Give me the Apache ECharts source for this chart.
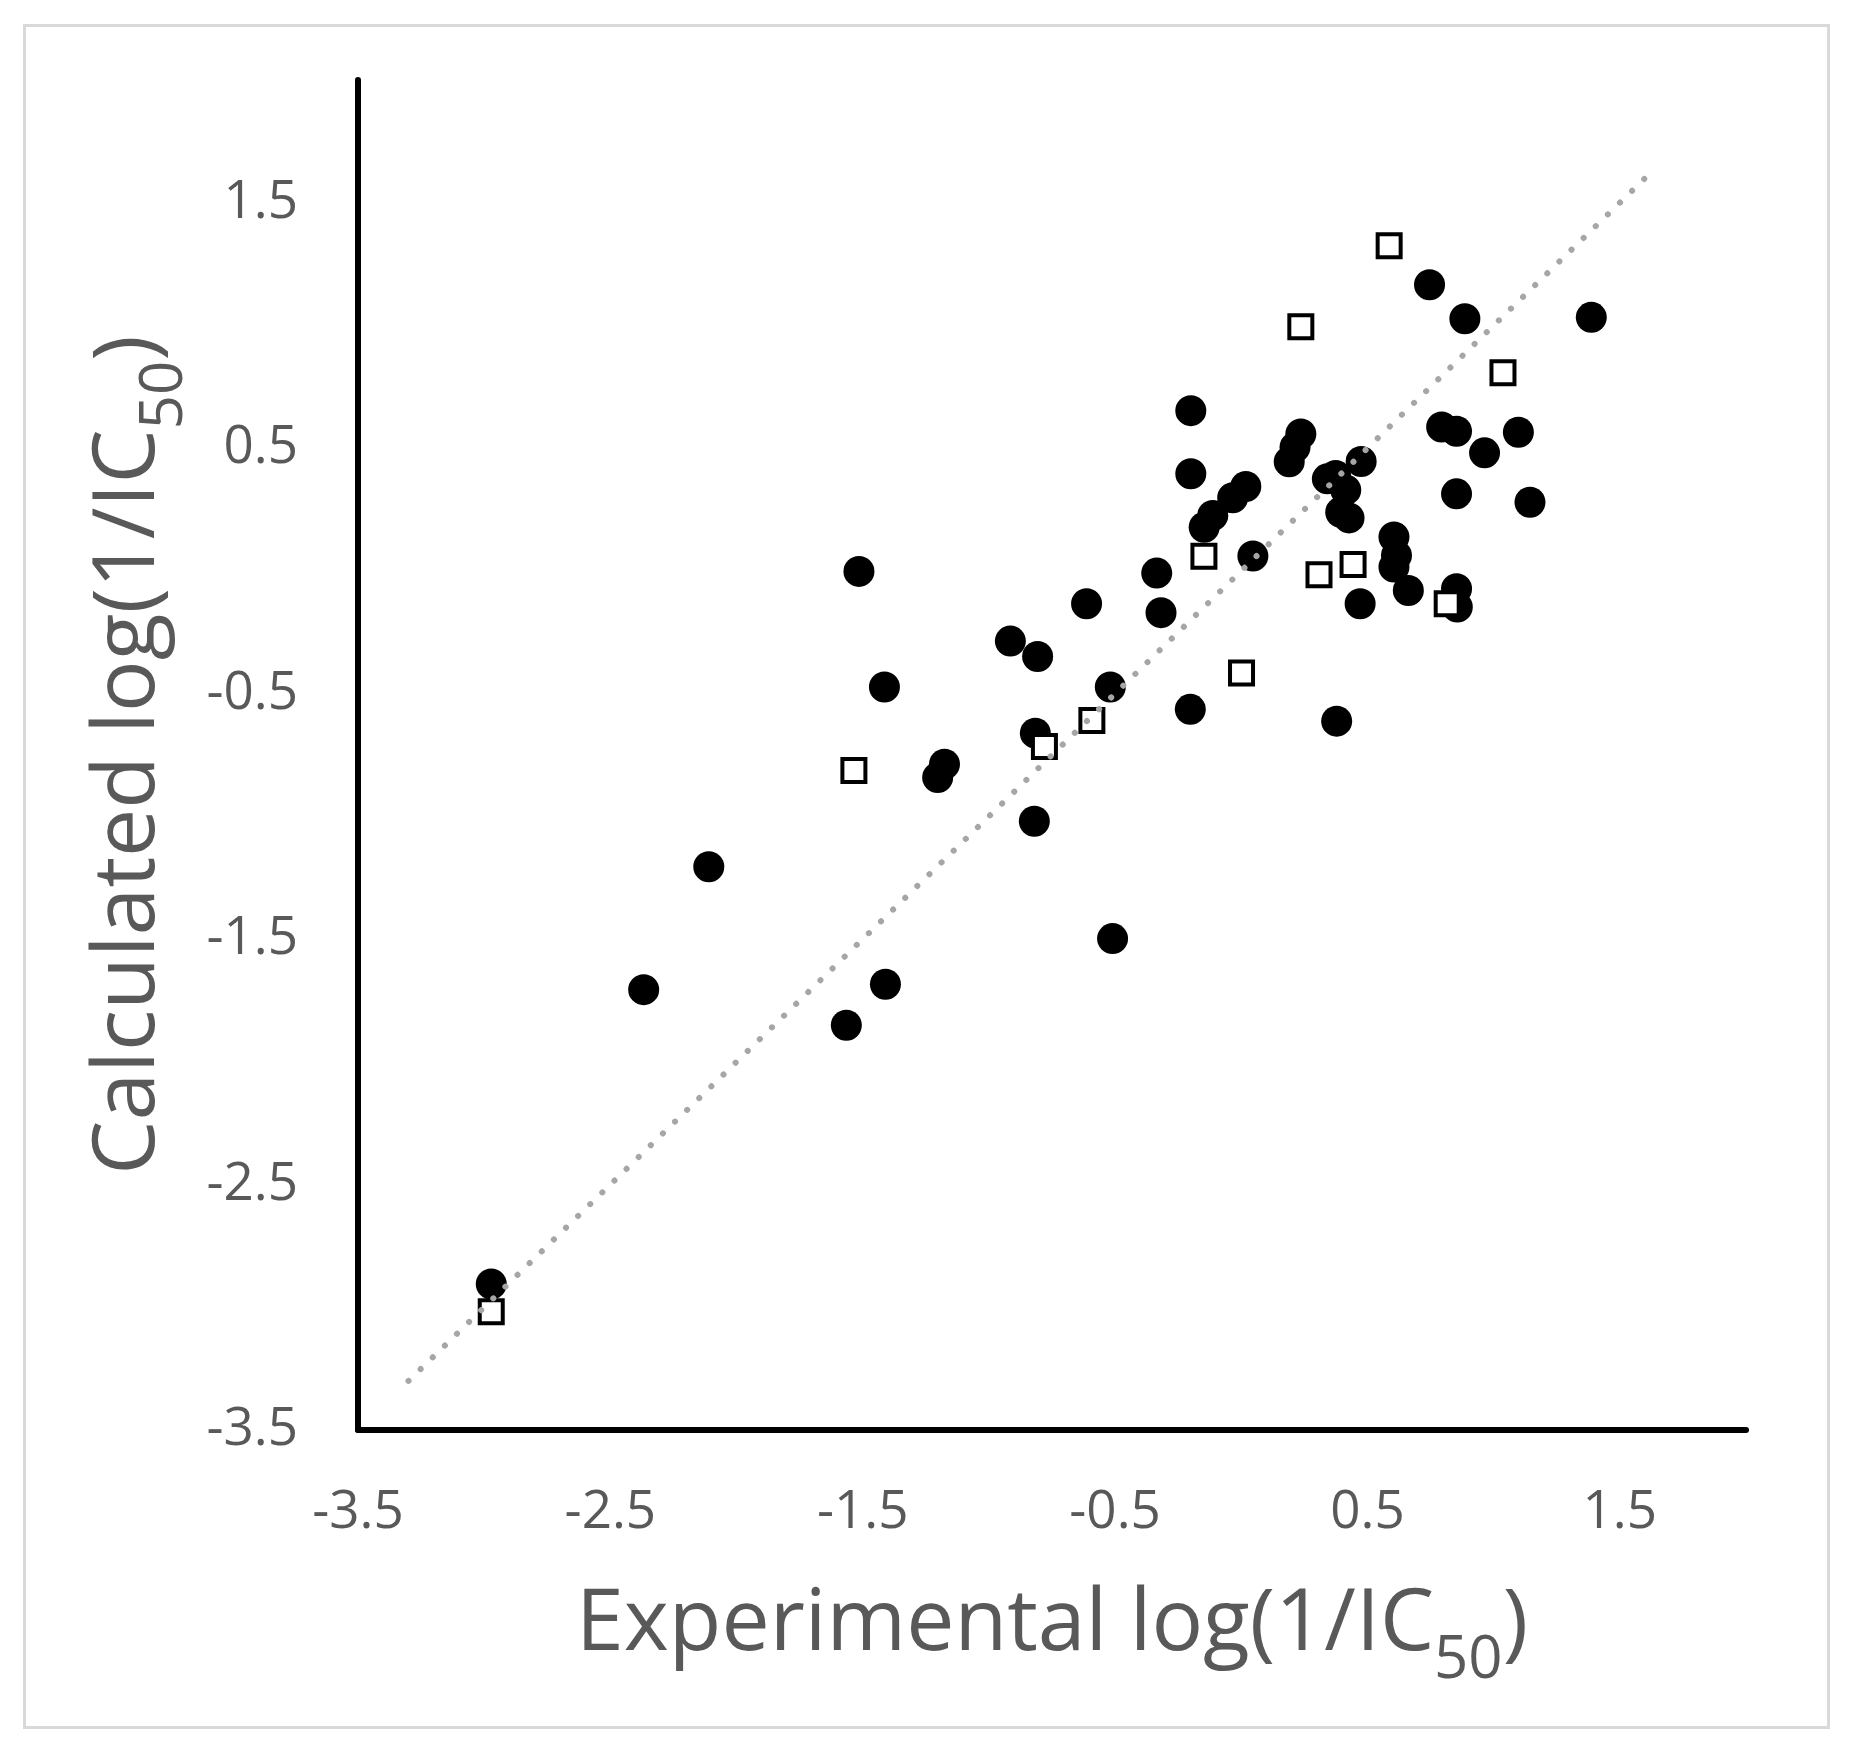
<!DOCTYPE html>
<html>
<head>
<meta charset="utf-8">
<script src="https://cdn.jsdelivr.net/npm/echarts@6/dist/echarts.min.js"></script>
<style>
html,body{margin:0;padding:0;background:#fff;}
#chart{width:1853px;height:1752px;}
</style>
</head>
<body>
<div id="chart"></div>
<script>
// Series 1: filled circles [experimental, calculated]
var circlePoints = [
  [0.746, 1.166], [0.886, 1.027], [1.387, 1.033],
  [-0.200, 0.653], [-0.200, 0.396],
  [0.236, 0.558], [0.213, 0.504], [0.190, 0.445],
  [0.018, 0.344], [-0.034, 0.298], [-0.113, 0.226], [-0.147, 0.178],
  [0.046, 0.061], [-0.335, -0.009], [-0.318, -0.170],
  [0.475, 0.446], [0.341, 0.375], [0.374, 0.389], [0.414, 0.330], [0.394, 0.239], [0.427, 0.216],
  [0.794, 0.586], [0.853, 0.569], [1.098, 0.565], [0.964, 0.481], [0.853, 0.314], [1.144, 0.280],
  [0.605, 0.138], [0.615, 0.063], [0.605, 0.016], [0.662, -0.080], [0.471, -0.134],
  [0.853, -0.073], [0.856, -0.147],
  [-1.515, -0.002], [-0.613, -0.134], [-0.915, -0.286], [-0.807, -0.349],
  [-1.414, -0.473], [-0.519, -0.473], [-0.202, -0.564], [0.378, -0.612],
  [-0.816, -0.661], [-1.176, -0.788], [-1.203, -0.842], [-0.820, -1.020],
  [-2.110, -1.205], [-2.368, -1.706], [-1.410, -1.684], [-1.565, -1.851],
  [-0.510, -1.498], [-2.972, -2.905]
];
// Series 2: open squares [experimental, calculated]
var squarePoints = [
  [0.586, 1.325], [0.236, 0.995], [1.037, 0.807],
  [-0.148, 0.060], [0.308, -0.016], [0.443, 0.026], [0.816, -0.134],
  [0.001, -0.416], [-0.592, -0.609], [-0.780, -0.715], [-1.535, -0.813],
  [-2.972, -3.018]
];
// Trend line (y = x) end points
var trendLine = [[-3.3, -3.3], [1.6, 1.6]];
// Axis range / tick labels
var axisMin = -3.5, axisMax = 2.0;
var tickLabels = ['-3.5', '-2.5', '-1.5', '-0.5', '0.5', '1.5'];

var labelFmt = function (v) {
  var s = v.toFixed(1);
  return tickLabels.indexOf(s) >= 0 ? s : '';
};
var FONT = '"Open Sans", "Noto Sans", sans-serif';
var nameRich = {
  a: { fontFamily: FONT, fontSize: 86, lineHeight: 86, color: '#595959' },
  b: { fontFamily: FONT, fontSize: 60, lineHeight: 10, padding: [72, 0, 0, 0], color: '#595959', verticalAlign: 'middle' }
};
function axisCommon() {
  return {
    type: 'value', min: axisMin, max: axisMax, interval: 0.5,
    axisLine: { show: true, onZero: false, lineStyle: { color: '#000', width: 6 } },
    axisTick: { show: false },
    splitLine: { show: false },
    nameLocation: 'middle',
    nameTextStyle: { rich: nameRich }
  };
}
var xAxis = axisCommon();
xAxis.name = '{a|Experimental log(1/IC}{b|50}{a|)}';
xAxis.nameGap = 152;
xAxis.axisLabel = { formatter: labelFmt, fontFamily: FONT, fontSize: 53, color: '#595959', margin: 56, showMinLabel: true, showMaxLabel: true };
var yAxis = axisCommon();
yAxis.name = '{a|Calculated log(1/IC}{b|50}{a|)}';
yAxis.nameGap = 186;
yAxis.nameRotate = 90;
yAxis.axisLabel = { formatter: labelFmt, fontFamily: FONT, fontSize: 53, color: '#595959', margin: 60, showMinLabel: true, showMaxLabel: true };

var chart = echarts.init(document.getElementById('chart'));
chart.setOption({
  animation: false,
  backgroundColor: '#fff',
  graphic: [{
    type: 'rect', left: 22, top: 23, silent: true, z: -10,
    shape: { width: 1804, height: 1702 },
    style: { fill: 'none', stroke: '#d9d9d9', lineWidth: 3 }
  }],
  grid: { left: 358, top: 80, width: 1388, height: 1350, containLabel: false },
  xAxis: xAxis,
  yAxis: yAxis,
  series: [
    {
      type: 'scatter', data: circlePoints, symbol: 'circle', symbolSize: 31,
      itemStyle: { color: '#000', opacity: 1 }
    },
    {
      type: 'scatter', data: squarePoints, symbol: 'rect', symbolSize: 23,
      itemStyle: { color: '#fff', borderColor: '#000', borderWidth: 4, opacity: 1 }
    },
    {
      type: 'line', data: trendLine, symbol: 'none', silent: true,
      lineStyle: { color: '#a6a6a6', width: 6, type: [0.1, 16.8], cap: 'round' }
    }
  ]
});
</script>
</body>
</html>
